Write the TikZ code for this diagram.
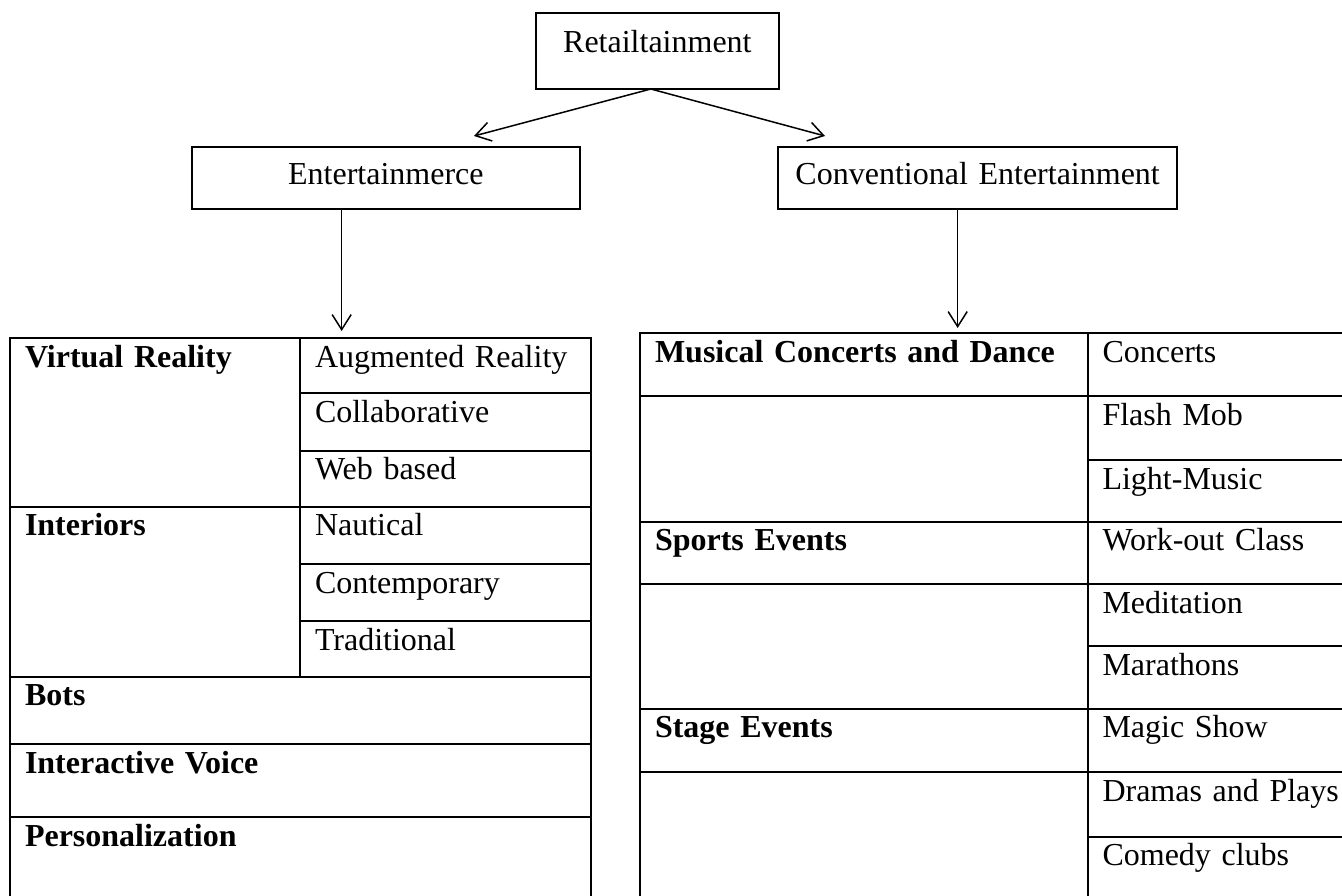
\documentclass[tikz,border=0pt]{standalone}
\usepackage{fontspec}
\setmainfont{Liberation Serif}
\usepackage{tikz}
\usetikzlibrary{positioning,calc,arrows.meta}
\tikzset{
  figfont/.style={font=\fontsize{32}{38}\selectfont},
  figbox/.style={draw, line width=2pt, anchor=north west, outer sep=0pt, inner sep=0pt, align=center},
  figcell/.style 2 args={draw, line width=2pt, anchor=north west, outer sep=0pt,
    inner xsep=15pt, inner ysep=0pt, text height=29pt, text width=#1, text depth=#2, align=left},
  figarrow/.style={-{Straight Barb[length=15pt, width=19pt]}, line width=1.5pt},
}
\begin{document}
\begin{tikzpicture}[figfont, x=1pt, y=-1pt]
  \useasboundingbox (0,0) rectangle (1342,896);
  \clip (0,0) rectangle (1342,896);

  % Top boxes
  \node[figbox, text width=243.3pt, text height=40pt, text depth=36.3pt] (R) at (535.7,12.7)
    {Retailtainment};
  \node[figbox, text width=388.3pt, text height=38.3pt, text depth=24pt] (E) at (191.7,146.7)
    {Entertainmerce};
  \node[figbox, text width=398.7pt, text height=38.3pt, text depth=24pt] (C) at (778.3,146.7)
    {Conventional Entertainment};

  % Left table
  \node[figcell={260pt}{139.7pt}] (VR) at (10,338) {\textbf{Virtual Reality}};
  \node[figcell={260.5pt}{26.3pt}] (AR) at (VR.north east) {Augmented Reality};
  \node[figcell={260.5pt}{28.4pt}] (CO) at (AR.south west) {Collaborative};
  \node[figcell={260.5pt}{27pt}] (WB) at (CO.south west) {Web based};
  \node[figcell={260pt}{141pt}] (IN) at (VR.south west) {\textbf{Interiors}};
  \node[figcell={260.5pt}{28.3pt}] (NA) at (IN.north east) {Nautical};
  \node[figcell={260.5pt}{28pt}] (CT) at (NA.south west) {Contemporary};
  \node[figcell={260.5pt}{26.7pt}] (TR) at (CT.south west) {Traditional};
  \node[figcell={550.5pt}{38.3pt}] (BO) at (IN.south west) {\textbf{Bots}};
  \node[figcell={550.5pt}{44.3pt}] (IV) at (BO.south west) {\textbf{Interactive Voice}};
  \node[figcell={550.5pt}{71pt}] (PE) at (IV.south west) {\textbf{Personalization}};

  % Right table
  \node[figcell={417.5pt}{33.7pt}] (MU) at (640,333.3) {\textbf{Musical Concerts and Dance}};
  \node[figcell={290pt}{33.7pt}] (CN) at (MU.north east) {Concerts};
  \node[figcell={290pt}{35pt}] (FM) at (CN.south west) {Flash Mob};
  \node[figcell={290pt}{32.7pt}] (LM) at (FM.south west) {Light-Music};
  \node[figcell={417.5pt}{96.7pt}] (M2) at (MU.south west) {};
  \node[figcell={417.5pt}{33.3pt}] (SP) at (M2.south west) {\textbf{Sports Events}};
  \node[figcell={290pt}{33.3pt}] (WO) at (LM.south west) {Work-out Class};
  \node[figcell={290pt}{33pt}] (ME) at (WO.south west) {Meditation};
  \node[figcell={290pt}{33.7pt}] (MA) at (ME.south west) {Marathons};
  \node[figcell={417.5pt}{95.7pt}] (S2) at (SP.south west) {};
  \node[figcell={417.5pt}{34.6pt}] (ST) at (S2.south west) {\textbf{Stage Events}};
  \node[figcell={290pt}{34.6pt}] (MS) at (MA.south west) {Magic Show};
  \node[figcell={290pt}{35.4pt}] (DP) at (MS.south west) {Dramas and Plays};
  \node[figcell={290pt}{51pt}] (CC) at (DP.south west) {Comedy clubs};
  \node[figcell={417.5pt}{115.4pt}] (T2) at (ST.south west) {};

  % Arrows
  \coordinate (Etip) at (474,136);
  \coordinate (Ctip) at (825,136);
  \draw[figarrow] ([xshift=-6.5pt]R.south) -- (Etip);
  \draw[figarrow] ([xshift=-6.5pt]R.south) -- (Ctip);
  \draw[figarrow, shorten >=7pt] ([xshift=-44.2pt]E.south) -- ([xshift=-44.2pt]E.south |- AR.north);
  \draw[figarrow, shorten >=5.3pt] ([xshift=-20pt]C.south) -- ([xshift=-20pt]C.south |- MU.north);
\end{tikzpicture}
\end{document}
